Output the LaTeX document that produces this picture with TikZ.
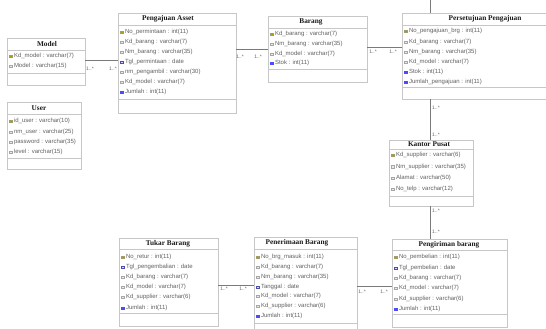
\documentclass[tikz,border=0pt]{standalone}
\usepackage{fontspec}
\setmainfont{Liberation Serif}
\newfontfamily\attrfont{Liberation Sans}
\usetikzlibrary{calc}

% class box: name, left, top, right, bottom, title rule y, attribute rule y, title x, title
\newcommand\umlclass[9]{%
  \node[classbox, anchor=north west,
        minimum width={(#4-#2)*1pt}, minimum height={(#5-#3)*1pt}] (#1) at (#2,#3) {};
  \draw[sepline] (#2,#6) -- (#4,#6);
  \draw[sepline] (#2,#7) -- (#4,#7);
  \node[classtitle] (#1-title) at (#8,{(#3+#6)/2}) {#9};
}
% attribute row: box left, y, icon style, text
\newcommand\umlattr[4]{%
  \node[#3] at ({#1+3.5},#2) {};
  \node[attrtext] at ({#1+6.8},#2) {#4};
}

\tikzset{
  classbox/.style={draw=black!22, fill=white, line width=0.8pt, inner sep=0pt, outer sep=0pt},
  sepline/.style={draw=black!22, line width=0.7pt},
  classtitle/.style={font=\bfseries\fontsize{7.3}{8}\selectfont, text=black!90, inner sep=0pt},
  attrtext/.style={font=\attrfont\fontsize{6}{7}\selectfont, text=black!62, anchor=west, inner sep=0pt},
  iconbase/.style={minimum size=2.6pt, inner sep=0pt, line width=0.3pt},
  keyicon/.style={iconbase, fill=olive!75!yellow, draw=olive!60!black!60},
  plainicon/.style={iconbase, draw=black!35, fill=black!8},
  dateicon/.style={iconbase, draw=blue!55!black!70, fill=blue!15},
  inticon/.style={iconbase, fill=blue!70, draw=blue!70},
  conn/.style={draw=black!52, line width=0.75pt},
  mult/.style={font=\attrfont\fontsize{5}{6}\selectfont, text=black!60, inner sep=0pt},
}

\begin{document}
\begin{tikzpicture}[x=1pt, y=-1pt]
\useasboundingbox[fill=white] (0,0) rectangle (546,329);

% ---- Model
\umlclass{model}{7}{38}{85}{85}{50}{73}{47}{Model}
\umlattr{7}{56}{keyicon}{Kd\_model : varchar(7)}
\umlattr{7}{66}{plainicon}{Model : varchar(15)}

% ---- User
\umlclass{user}{7}{102}{81}{169}{114}{158}{39}{User}
\umlattr{7}{121}{keyicon}{id\_user : varchar(10)}
\umlattr{7}{132}{plainicon}{nm\_user : varchar(25)}
\umlattr{7}{142}{plainicon}{password : varchar(35)}
\umlattr{7}{152}{plainicon}{level : varchar(15)}

% ---- Pengajuan Asset
\umlclass{pa}{118}{13}{236}{113}{25}{99}{168}{Pengajuan Asset}
\umlattr{118}{32}{keyicon}{No\_permintaan : int(11)}
\umlattr{118}{42}{plainicon}{Kd\_barang : varchar(7)}
\umlattr{118}{52}{plainicon}{Nm\_barang : varchar(35)}
\umlattr{118}{62}{dateicon}{Tgl\_permintaan : date}
\umlattr{118}{72}{plainicon}{nm\_pengambil : varchar(30)}
\umlattr{118}{82}{plainicon}{Kd\_model : varchar(7)}
\umlattr{118}{92}{inticon}{Jumlah : int(11)}

% ---- Barang
\umlclass{barang}{268}{16}{367}{82}{28}{69}{311}{Barang}
\umlattr{268}{34}{keyicon}{Kd\_barang : varchar(7)}
\umlattr{268}{44}{plainicon}{Nm\_barang : varchar(35)}
\umlattr{268}{54}{plainicon}{Kd\_model : varchar(7)}
\umlattr{268}{63}{inticon}{Stok : int(11)}

% ---- Persetujuan Pengajuan
\umlclass{ps}{402}{13}{568}{99}{25}{87}{485}{Persetujuan Pengajuan}
\umlattr{402}{31}{keyicon}{No\_pengajuan\_brg : int(11)}
\umlattr{402}{42}{plainicon}{Kd\_barang : varchar(7)}
\umlattr{402}{52}{plainicon}{Nm\_barang : varchar(35)}
\umlattr{402}{62}{plainicon}{Kd\_model : varchar(7)}
\umlattr{402}{72}{inticon}{Stok : int(11)}
\umlattr{402}{82}{inticon}{Jumlah\_pengajuan : int(11)}

% ---- Kantor Pusat
\umlclass{kp}{389}{140}{473}{206}{149}{196}{429}{Kantor Pusat}
\umlattr{389}{155}{keyicon}{Kd\_supplier : varchar(6)}
\umlattr{389}{166.5}{plainicon}{Nm\_supplier : varchar(35)}
\umlattr{389}{178}{plainicon}{Alamat : varchar(50)}
\umlattr{389}{189}{plainicon}{No\_telp : varchar(12)}

% ---- Tukar Barang
\umlclass{tb}{119}{238}{218}{326}{249}{313}{168}{Tukar Barang}
\umlattr{119}{257}{keyicon}{No\_retur : int(11)}
\umlattr{119}{267}{dateicon}{Tgl\_pengembalian : date}
\umlattr{119}{277}{plainicon}{Kd\_barang : varchar(7)}
\umlattr{119}{287}{plainicon}{Kd\_model : varchar(7)}
\umlattr{119}{297}{plainicon}{Kd\_supplier : varchar(6)}
\umlattr{119}{308}{inticon}{Jumlah : int(11)}

% ---- Penerimaan Barang
\umlclass{pb}{254}{237}{357}{340}{249}{323}{297}{Penerimaan Barang}
\umlattr{254}{257}{keyicon}{No\_brg\_masuk : int(11)}
\umlattr{254}{267}{plainicon}{Kd\_barang : varchar(7)}
\umlattr{254}{277}{plainicon}{Nm\_barang : varchar(35)}
\umlattr{254}{287}{dateicon}{Tanggal : date}
\umlattr{254}{296}{plainicon}{Kd\_model : varchar(7)}
\umlattr{254}{306}{plainicon}{Kd\_supplier : varchar(6)}
\umlattr{254}{316}{inticon}{Jumlah : int(11)}

% ---- Pengiriman barang
\umlclass{pk}{392}{239}{507}{327}{250}{314}{449}{Pengiriman barang}
\umlattr{392}{257}{keyicon}{No\_pembelian : int(11)}
\umlattr{392}{268}{dateicon}{Tgl\_pembelian : date}
\umlattr{392}{278}{plainicon}{Kd\_barang : varchar(7)}
\umlattr{392}{288}{plainicon}{Kd\_model : varchar(7)}
\umlattr{392}{299}{plainicon}{Kd\_supplier : varchar(6)}
\umlattr{392}{309}{inticon}{Jumlah : int(11)}

% ---- associations
\coordinate (topstub) at (430,0);
\draw[conn] (topstub) -- (ps.north -| topstub);
\draw[conn] (model.east |- 0,60) -- (pa.west |- 0,60);
\draw[conn] (pa.east |- 0,49) -- (barang.west |- 0,49);
\draw[conn] (barang.east |- 0,47) -- (ps.west |- 0,47);
\draw[conn] (ps.south -| topstub) -- (kp.north -| topstub);
\draw[conn] (kp.south -| topstub) -- (pk.north -| topstub);
\draw[conn] (tb.east |- 0,285) -- (pb.west |- 0,285);
\draw[conn] (pb.east |- 0,286) -- (pk.west |- 0,286);

% ---- multiplicities
\node[mult] (m1) at (90,69) {1..*};
\node[mult] (m2) at (113,69) {1..*};
\node[mult] (m3) at (240,57) {1..*};
\node[mult] (m4) at (258,57) {1..*};
\node[mult] (m5) at (373,52) {1..*};
\node[mult] (m6) at (393,52) {1..*};
\node[mult, anchor=west] (m7) at (432,108) {1..*};
\node[mult, anchor=west] (m8) at (432,135) {1..*};
\node[mult, anchor=west] (m9) at (432,211) {1..*};
\node[mult, anchor=west] (m10) at (432,232) {1..*};
\node[mult] (m11) at (224,289) {1..*};
\node[mult] (m12) at (243,289) {1..*};
\node[mult] (m13) at (362,292) {1..*};
\node[mult] (m14) at (384,292) {1..*};
\end{tikzpicture}
\end{document}
